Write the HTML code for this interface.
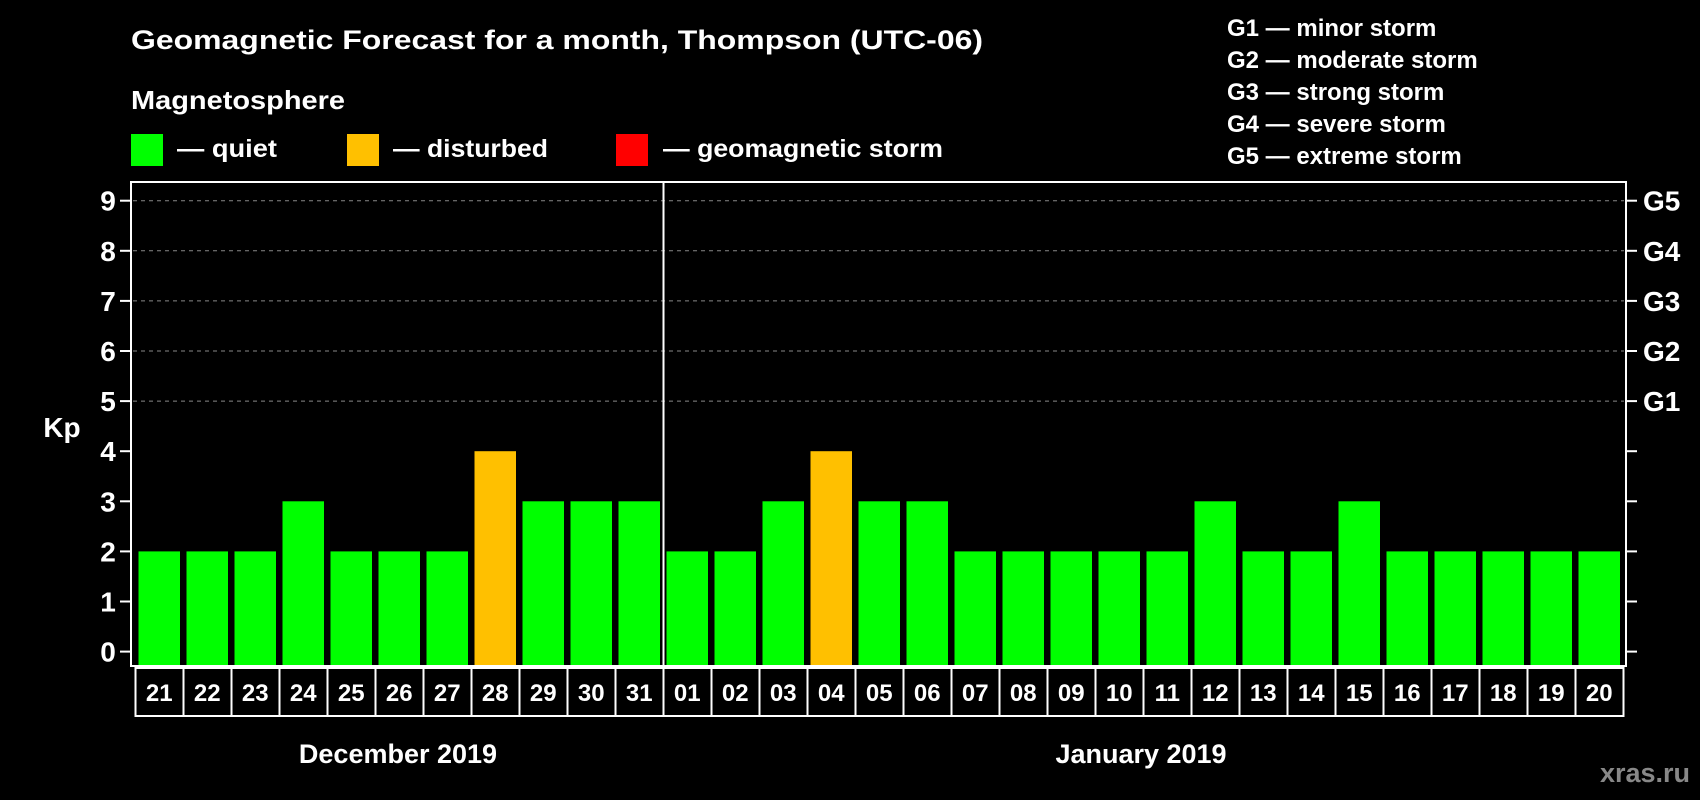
<!DOCTYPE html>
<html><head><meta charset="utf-8"><style>
html,body{margin:0;padding:0;background:#000;width:1700px;height:800px;overflow:hidden}
svg text{font-family:"Liberation Sans",Arial,sans-serif;font-weight:bold;fill:#fff}
</style></head><body>
<svg id="chart" width="1700" height="800" viewBox="0 0 1700 800" xmlns="http://www.w3.org/2000/svg">
<rect width="1700" height="800" fill="#000"/>
<text x="131" y="49" font-size="27" textLength="852" lengthAdjust="spacingAndGlyphs">Geomagnetic Forecast for a month, Thompson (UTC-06)</text>
<text x="131" y="109" font-size="26" textLength="214" lengthAdjust="spacingAndGlyphs">Magnetosphere</text>
<g><rect x="131" y="134" width="32" height="32" fill="#00ff00"/><text x="177" y="157" font-size="25" textLength="100" lengthAdjust="spacingAndGlyphs">— quiet</text></g>
<g><rect x="347" y="134" width="32" height="32" fill="#ffc000"/><text x="393" y="157" font-size="25" textLength="155" lengthAdjust="spacingAndGlyphs">— disturbed</text></g>
<g><rect x="616" y="134" width="32" height="32" fill="#ff0000"/><text x="663" y="157" font-size="25" textLength="280" lengthAdjust="spacingAndGlyphs">— geomagnetic storm</text></g>
<g font-size="24">
<text x="1227" y="36">G1 — minor storm</text>
<text x="1227" y="68">G2 — moderate storm</text>
<text x="1227" y="100">G3 — strong storm</text>
<text x="1227" y="132">G4 — severe storm</text>
<text x="1227" y="164">G5 — extreme storm</text>
</g>
<g id="grid"></g>
<g id="bars"></g>
<rect x="131" y="182" width="1495" height="484" fill="none" stroke="#fff" stroke-width="2"/>
<g id="yaxis"></g>
<g id="xaxis"></g>
<text x="62" y="437" font-size="28" text-anchor="middle">Kp</text>
<text x="398" y="763" font-size="27" text-anchor="middle">December 2019</text>
<text x="1141" y="763" font-size="27" text-anchor="middle">January 2019</text>
<text x="1690" y="782" font-size="27" text-anchor="end" style="fill:#888">xras.ru</text>
</svg>
<script>
const days = ["21","22","23","24","25","26","27","28","29","30","31","01","02","03","04","05","06","07","08","09","10","11","12","13","14","15","16","17","18","19","20"];
const kpValues = [2,2,2,3,2,2,2,4,3,3,3,2,2,3,4,3,3,2,2,2,2,2,3,2,2,3,2,2,2,2,2];
const yTicks = [0,1,2,3,4,5,6,7,8,9];
const gLabels = ["G1","G2","G3","G4","G5"];
const gLevels = [5,6,7,8,9];
const NS="http://www.w3.org/2000/svg";
const y = v => 651.6 - v*50.1;
const x0 = 138.5, pitch = 48.0, bw = 41.5;
const xs = i => x0 + i*pitch;
function mk(t,a,p){const e=document.createElementNS(NS,t);for(const k in a)e.setAttribute(k,a[k]);p.appendChild(e);return e;}
const grid=document.getElementById('grid'),bars=document.getElementById('bars'),ya=document.getElementById('yaxis'),xa=document.getElementById('xaxis');
yTicks.forEach(v=>{
  if(v>=5){const g=mk('line',{x1:133,x2:1624,y1:y(v),y2:y(v),stroke:'#888','stroke-dasharray':'4,4','stroke-width':1},grid);
  
  }
  mk('line',{x1:120,x2:131,y1:y(v),y2:y(v),stroke:'#fff','stroke-width':2},ya);
  mk('line',{x1:1626,x2:1637,y1:y(v),y2:y(v),stroke:'#fff','stroke-width':2},ya);
  const t=mk('text',{x:108,y:y(v)+10,'font-size':28,'text-anchor':'middle'},ya);t.textContent=v;
  
  
});
gLabels.forEach((g,i)=>{
  const t=mk('text',{x:1643,y:y(gLevels[i])+10,'font-size':28},ya);t.textContent=g;
  
  
});
kpValues.forEach((v,i)=>{
  const c=v>=5?'#ff0000':(v>=4?'#ffc000':'#00ff00');
  const r=mk('rect',{x:xs(i),y:y(v),width:bw,height:665-y(v),fill:c},bars);
  
  
  const b=mk('rect',{x:xs(i)-3,y:668,width:pitch,height:48,fill:'none',stroke:'#fff','stroke-width':2},xa);
  
  
  const t=mk('text',{x:xs(i)+bw/2,y:701,'font-size':24,'text-anchor':'middle'},xa);t.textContent=days[i];
  
  
});
const d=mk('line',{x1:xs(11)-3,x2:xs(11)-3,y1:182,y2:666,stroke:'#fff','stroke-width':2},xa);


</script>
</body></html>
